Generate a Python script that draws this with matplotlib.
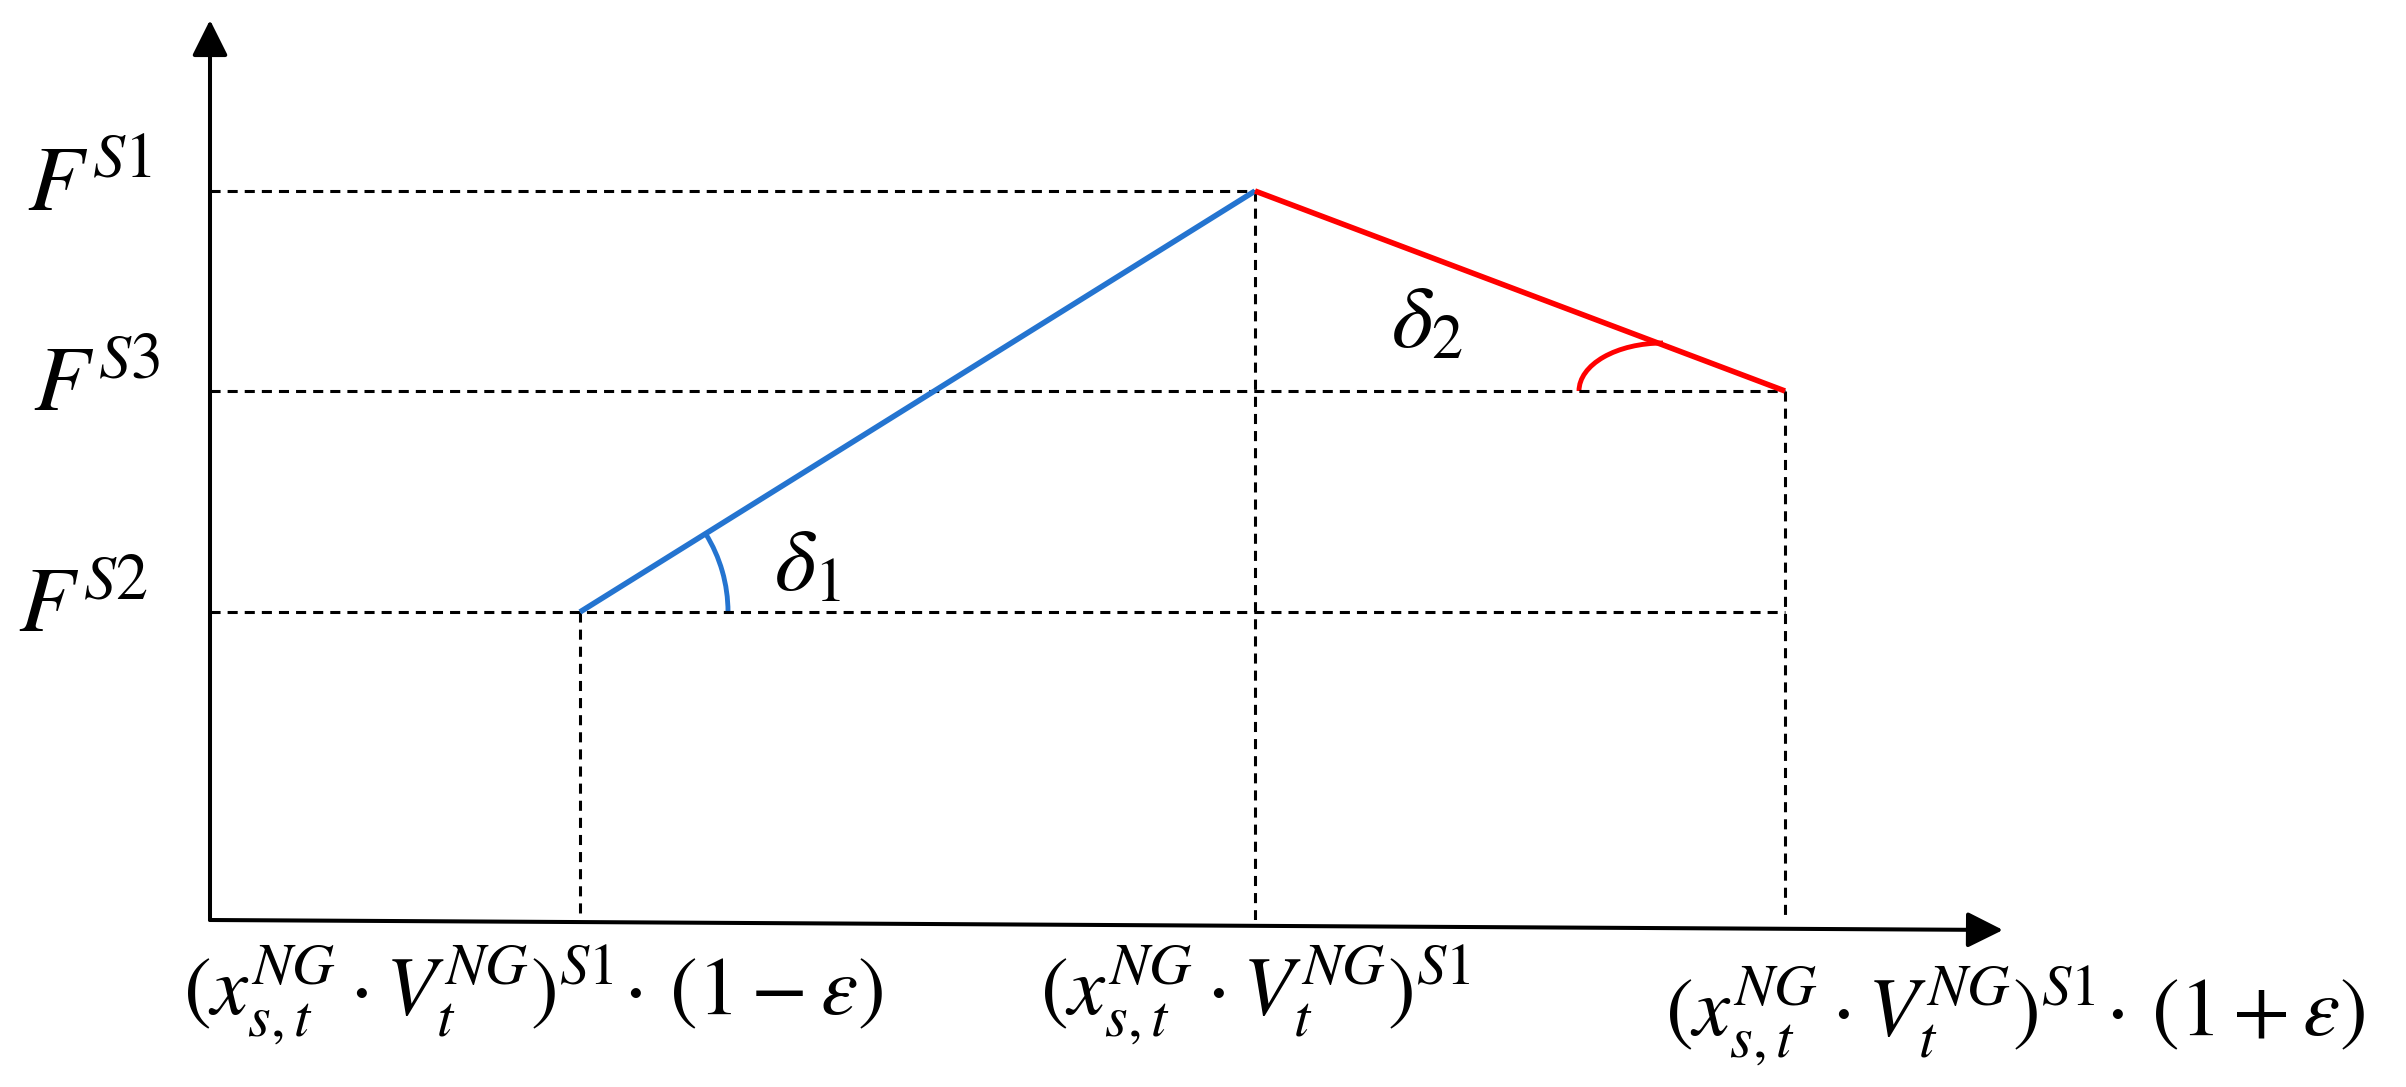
import numpy as np
import matplotlib.pyplot as plt
from matplotlib.patches import Arc

plt.rcParams['mathtext.fontset'] = 'stix'

# positions on the x axis: (1-eps), 1, (1+eps) of the reference volume
x_pts = [3.70, 10.45, 15.75]
# F levels: S2 (low end), S1 (peak), S3 (high end)
f_s2, f_s1, f_s3 = 3.08, 7.29, 5.29
f_line = [f_s2, f_s1, f_s3]

y_labels = [r'$F^{S1}$', r'$F^{S3}$', r'$F^{S2}$']
x_labels = [r'$(x_{s,t}^{NG}\cdot V_t^{NG})^{S1}\!\cdot\,(1-\varepsilon)$',
            r'$(x_{s,t}^{NG}\cdot V_t^{NG})^{S1}$',
            r'$(x_{s,t}^{NG}\cdot V_t^{NG})^{S1}\!\cdot\,(1+\varepsilon)$']

blue = '#2474D0'
red = '#FF0000'
W, H = 2406, 1087

fig = plt.figure(figsize=(W / 100, H / 100), dpi=100)
ax = fig.add_axes([210 / W, (H - 920) / H, 1793 / W, 900 / H])
ax.set_xlim(0, 17.93)
ax.set_ylim(0, 9.0)
ax.axis('off')

# axes with arrows (x axis drawn slightly tilted like the original)
tilt = -0.10
ax.annotate('', xy=(0, 9.0), xytext=(0, 0),
            arrowprops=dict(arrowstyle='-|>', lw=2.9, color='black',
                            mutation_scale=55, shrinkA=0, shrinkB=0),
            annotation_clip=False)
ax.annotate('', xy=(17.93, tilt), xytext=(0, 0),
            arrowprops=dict(arrowstyle='-|>', lw=2.9, color='black',
                            mutation_scale=55, shrinkA=0, shrinkB=0),
            annotation_clip=False)

def axis_y(x):
    return tilt * x / 17.93

dash = dict(color='black', lw=2.2, ls=(0, (3.3, 2.3)))
# horizontal guides
ax.plot([0, x_pts[1]], [f_s1, f_s1], **dash)
ax.plot([0, x_pts[2]], [f_s3, f_s3], **dash)
ax.plot([0, x_pts[2]], [f_s2, f_s2], **dash)
# vertical guides
for xv, fv in zip(x_pts, f_line):
    ax.plot([xv, xv], [fv, axis_y(xv)], **dash)

# the two segments
ax.plot(x_pts[:2], f_line[:2], color=blue, lw=4, solid_capstyle='butt')
ax.plot(x_pts[1:], f_line[1:], color=red, lw=4, solid_capstyle='butt')

# angle arcs
ang1 = np.degrees(np.arctan2(f_s1 - f_s2, x_pts[1] - x_pts[0]))
ax.add_patch(Arc((x_pts[0], f_s2), 2.96, 2.96, theta1=0, theta2=ang1,
                 color=blue, lw=3.5))
ax.add_patch(Arc((x_pts[2] - 1.22, f_s3), 1.68, 0.96, theta1=90, theta2=180,
                 color=red, lw=3.5))

ax.text(5.98, 3.55, r'$\delta_1$', fontsize=64, ha='center', va='center')
ax.text(12.17, 5.97, r'$\delta_2$', fontsize=64, ha='center', va='center')

# y labels
for lab, yv, xo in zip(y_labels, [f_s1, f_s3, f_s2], [-1.20, -1.13, -1.27]):
    ax.text(xo, yv + 0.06, lab, fontsize=66, ha='center', va='center')

# x labels
for lab, xv, yo in zip(x_labels, [3.23, x_pts[1], 18.05], [-0.76, -0.76, -0.97]):
    ax.text(xv, yo, lab, fontsize=60, ha='center', va='center')

fig.savefig('out.png', dpi=100)
